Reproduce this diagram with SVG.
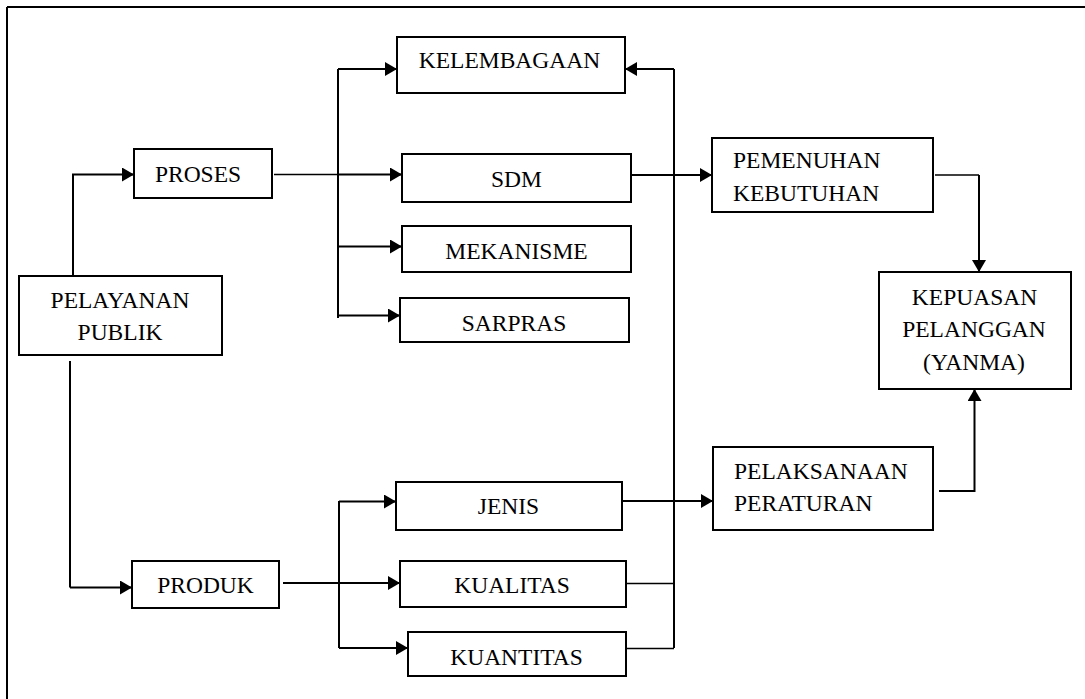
<svg xmlns="http://www.w3.org/2000/svg" width="1085" height="699" viewBox="0 0 1085 699">
<style>
.box{fill:#fff;stroke:#000;stroke-width:2}
.t{font-family:"Liberation Serif","Times New Roman",serif;font-size:23.5px;fill:#000}
.m{text-anchor:middle}
.ln{fill:none;stroke:#000;stroke-width:2}
.thin{fill:none;stroke:#000;stroke-width:1.3}
.ar{fill:none;stroke:#000;stroke-width:2;marker-end:url(#ah)}
</style>
<defs>
<marker id="ah" markerUnits="userSpaceOnUse" markerWidth="13" markerHeight="15" refX="12" refY="7" orient="auto">
<path d="M0,0 L12,7 L0,14 z" fill="#000"/>
</marker>
</defs>
<rect width="1085" height="699" fill="#fff"/>
<g id="frame">
<line x1="7" y1="7" x2="1085" y2="7" stroke="#000" stroke-width="2"/>
<line x1="7" y1="7" x2="7" y2="699" stroke="#000" stroke-width="2"/>
</g>
<g id="connectors">
<path class="ar" d="M73,276 V174.5 H134"/>
<path class="thin" d="M274,174.5 H338"/>
<path class="ar" d="M338,174.5 H402"/>
<path class="ln" d="M338,69 V318"/>
<path class="ar" d="M338,69 H397"/>
<path class="ar" d="M338,246.5 H402"/>
<path class="ar" d="M338,315.5 H400"/>
<path class="ar" d="M631,175 H712"/>
<path class="ln" d="M674,69 V648"/>
<path class="ar" d="M674,69 H625"/>
<path class="thin" d="M935,175 H979"/>
<path class="ar" d="M979,175 V272"/>
<path class="ar" d="M939,491 H974.5 V389"/>
<path class="ln" d="M70,361 V587.5"/>
<path class="ar" d="M70,587.5 H132"/>
<path class="ar" d="M283,583 H400"/>
<path class="ln" d="M339,501 V648"/>
<path class="ar" d="M339,501.5 H396"/>
<path class="ar" d="M339,648 H408"/>
<path class="ar" d="M622,501 H713"/>
<path class="thin" d="M626,583.5 H674"/>
<path class="thin" d="M626,648.5 H674"/>
</g>
<g id="pelayanan"><rect class="box" x="19" y="276" width="203" height="79"/>
<text class="t m" x="120" y="308">PELAYANAN</text><text class="t m" x="120" y="340">PUBLIK</text></g>
<g id="proses"><rect class="box" x="134" y="149" width="138" height="49"/>
<text class="t m" x="198" y="181.5">PROSES</text></g>
<g id="produk"><rect class="box" x="132" y="561" width="147" height="47"/>
<text class="t m" x="205.5" y="593">PRODUK</text></g>
<g id="kelembagaan"><rect class="box" x="397" y="37" width="228" height="56"/>
<text class="t m" x="509.5" y="68">KELEMBAGAAN</text></g>
<g id="sdm"><rect class="box" x="402" y="154" width="229" height="48"/>
<text class="t m" x="516.5" y="187">SDM</text></g>
<g id="mekanisme"><rect class="box" x="402" y="226" width="229" height="46"/>
<text class="t m" x="516.5" y="259">MEKANISME</text></g>
<g id="sarpras"><rect class="box" x="400" y="298" width="229" height="44"/>
<text class="t m" x="514" y="331">SARPRAS</text></g>
<g id="jenis"><rect class="box" x="396" y="482" width="226" height="48"/>
<text class="t m" x="508.5" y="514">JENIS</text></g>
<g id="kualitas"><rect class="box" x="400" y="561" width="226" height="46"/>
<text class="t m" x="512" y="592.5">KUALITAS</text></g>
<g id="kuantitas"><rect class="box" x="408" y="632" width="218" height="44"/>
<text class="t m" x="516.5" y="665">KUANTITAS</text></g>
<g id="pemenuhan"><rect class="box" x="712" y="138" width="221" height="74"/>
<text class="t" x="733" y="168">PEMENUHAN</text><text class="t" x="733" y="200.5">KEBUTUHAN</text></g>
<g id="pelaksanaan"><rect class="box" x="713" y="447" width="220" height="83"/>
<text class="t" x="734" y="479">PELAKSANAAN</text><text class="t" x="734" y="510.5">PERATURAN</text></g>
<g id="kepuasan"><rect class="box" x="879" y="272" width="192" height="117"/>
<text class="t m" x="974.5" y="305">KEPUASAN</text><text class="t m" x="974" y="336.5">PELANGGAN</text><text class="t m" x="974" y="370">(YANMA)</text></g>
</svg>
